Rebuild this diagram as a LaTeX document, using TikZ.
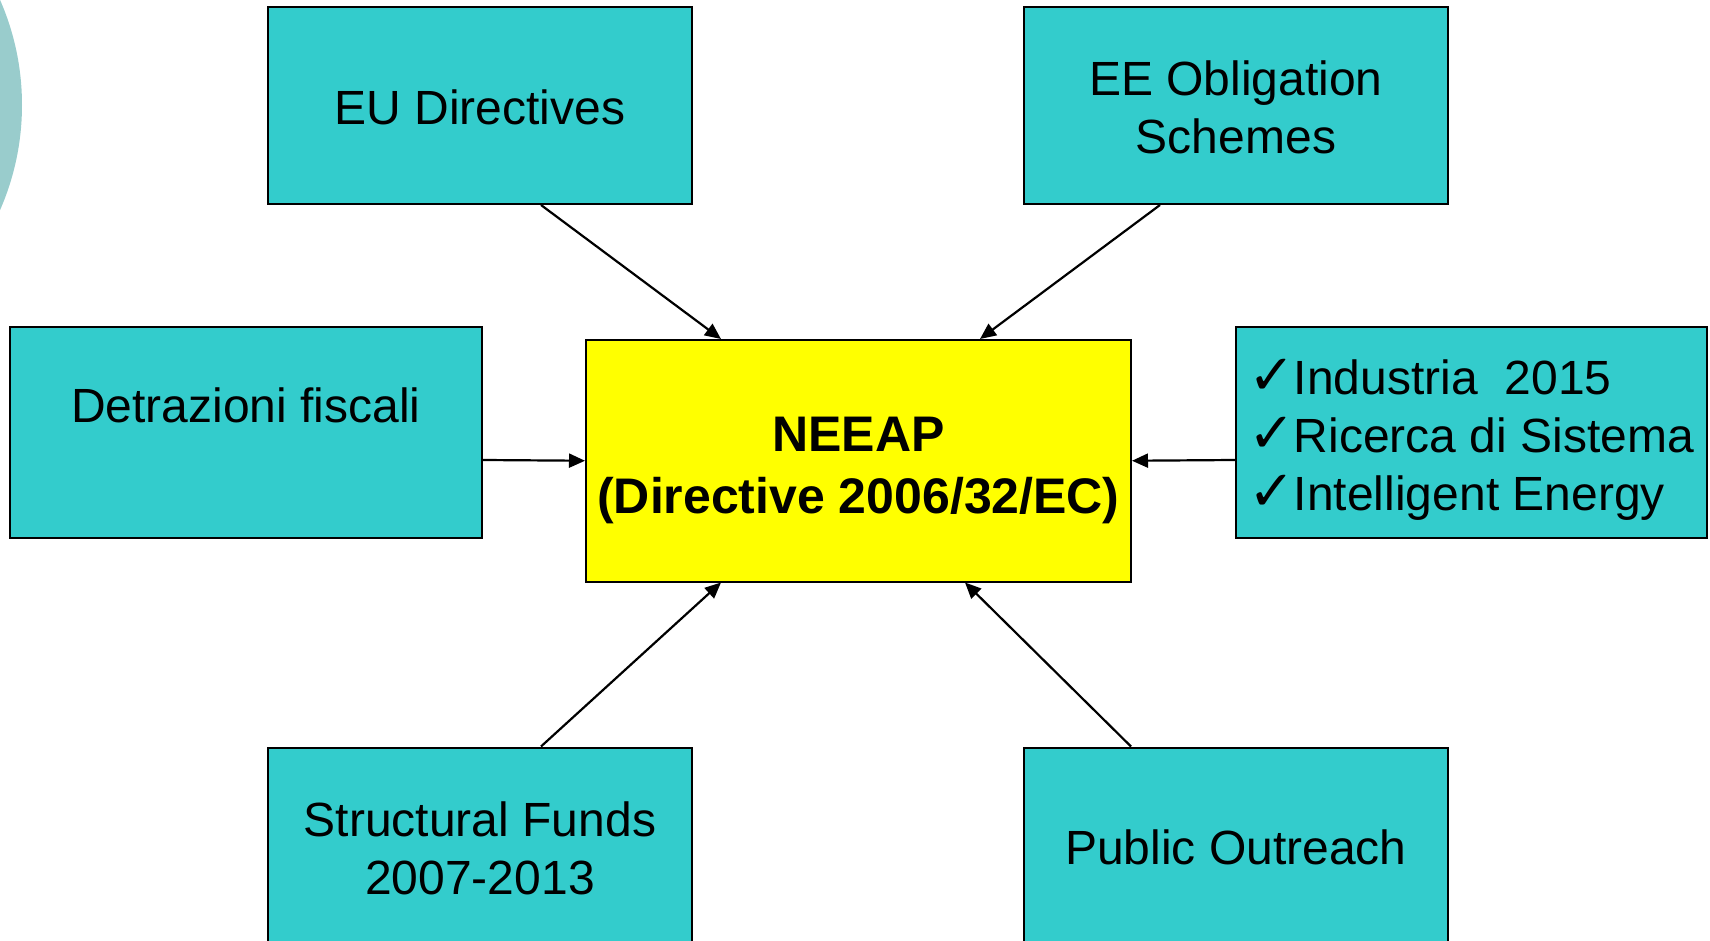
\documentclass[tikz,border=0pt]{standalone}
\usepackage{fontspec}
\setmainfont{Liberation Sans}
\newfontfamily\symfont{DejaVu Sans}
\usetikzlibrary{arrows.meta}
\definecolor{boxteal}{HTML}{33CCCC}
\definecolor{circteal}{HTML}{99CCCC}
\definecolor{hubyellow}{HTML}{FFFF00}
\newcommand{\tick}{{\symfont\fontsize{28}{28}\selectfont\char"2713}\kern-1pt}
% raises the top of a line, so the text sits lower in its box
\newcommand{\padtop}[1]{\rule{0pt}{\dimexpr0.72em+#1\relax}}

\begin{document}
\begin{tikzpicture}[x=0.5pt,y=-0.5pt]
    \path[use as bounding box, clip] (0,0) rectangle (1710,941);
    \fill[circteal] (-239.6,105) circle[radius=130.8pt];

    \begin{scope}[every node/.style={draw=black, line width=1pt, fill=boxteal,
                  align=center, inner sep=0pt,
                  font=\fontsize{24}{29}\selectfont}]
        \node[minimum width=212pt, minimum height=98.5pt] (eu) at (480,105.5) {\padtop{1.5pt}EU Directives};
        \node[minimum width=212pt, minimum height=98.5pt] (ee) at (1236,105.5) {\padtop{2pt}EE Obligation\\Schemes};
        \node[minimum width=236pt, minimum height=105.5pt] (detr) at (246,432.5) {\padtop{2pt}Detrazioni fiscali\\\mbox{}};
        \node[minimum width=235.5pt, minimum height=105.5pt, align=left] (prog) at (1471.5,432.5)
            {\padtop{8pt}\tick Industria\ \ 2015\\\tick Ricerca di Sistema\\\tick Intelligent Energy};
        \node[minimum width=272.5pt, minimum height=120.75pt, fill=hubyellow,
              font=\fontsize{25}{31}\selectfont\bfseries] (neeap) at (858.5,460.75)
            {\padtop{8.8pt}NEEAP\\(Directive 2006/32/EC)};
        \node[minimum width=212pt, minimum height=98.5pt] (sf) at (480,846) {\padtop{2pt}Structural Funds\\2007-2013};
        \node[minimum width=212pt, minimum height=98.5pt] (po) at (1236,846) {\padtop{1.5pt}Public Outreach};
    \end{scope}

    \begin{scope}[-{Triangle[length=8pt,width=7pt]}, line width=1.1pt]
        \draw ([xshift=30.5pt]eu.south) -- ([xshift=-68.75pt]neeap.north);
        \draw ([xshift=-38pt]ee.south) -- ([xshift=60.75pt]neeap.north);
        \draw ([yshift=-13.75pt]detr.east) -- (neeap.west);
        \draw ([yshift=-13.75pt]prog.west) -- (neeap.east);
        \draw ([xshift=30.5pt]sf.north) -- ([xshift=-68.75pt]neeap.south);
        \draw ([xshift=-52.5pt]po.north) -- ([xshift=53.25pt]neeap.south);
    \end{scope}
\end{tikzpicture}
\end{document}
